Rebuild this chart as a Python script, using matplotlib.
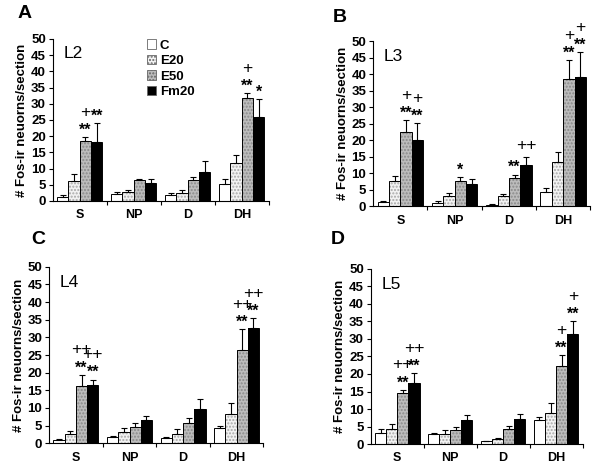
import numpy as np
import matplotlib.pyplot as plt
from matplotlib.patches import Patch

plt.rcParams['font.family'] = ['Liberation Sans', 'DejaVu Sans']
plt.rcParams['font.weight'] = 'bold'

groups = ['S', 'NP', 'D', 'DH']
series = ['C', 'E20', 'E50', 'Fm20']

# means per series (C, E20, E50, Fm20), one value per region S, NP, D, DH
l2_mean = [[1.3, 2.0, 1.8, 5.3], [6.2, 2.9, 2.5, 11.7], [18.6, 6.4, 6.5, 31.8], [18.1, 5.5, 8.9, 26.0]]
l2_err = [[0.6, 0.8, 0.7, 1.6], [2.2, 0.6, 0.8, 2.5], [1.0, 0.5, 1.0, 1.5], [6.0, 1.2, 3.3, 5.3]]
l3_mean = [[1.4, 1.0, 0.5, 4.2], [7.5, 3.1, 3.1, 13.3], [22.5, 7.5, 8.6, 38.6], [20.2, 6.6, 12.5, 39.3]]
l3_err = [[0.2, 0.5, 0.2, 1.3], [1.8, 0.8, 0.5, 3.0], [3.6, 1.3, 1.0, 5.6], [5.0, 1.5, 2.5, 7.3]]
l4_mean = [[1.0, 1.7, 1.6, 4.4], [2.6, 3.1, 2.7, 8.4], [16.1, 4.7, 5.8, 26.5], [16.4, 6.5, 9.7, 32.7]]
l4_err = [[0.3, 0.2, 0.2, 0.4], [0.9, 1.1, 1.2, 3.1], [3.3, 1.1, 1.4, 5.8], [1.6, 1.3, 2.8, 2.7]]
l5_mean = [[3.1, 2.8, 0.8, 6.8], [4.2, 3.0, 1.6, 8.8], [14.7, 3.9, 4.4, 22.2], [17.3, 7.0, 7.3, 31.5]]
l5_err = [[1.1, 0.3, 0.1, 1.0], [1.6, 1.1, 0.2, 3.0], [0.8, 1.0, 0.7, 3.1], [2.9, 1.4, 1.2, 3.5]]

# significance marks: (series index, group index, stars, plus)
l2_marks = [(2, 0, '**', '+'), (3, 0, '**', ''), (2, 3, '**', '+'), (3, 3, '*', '')]
l3_marks = [(2, 0, '**', '+'), (3, 0, '**', '+'), (2, 1, '*', ''), (2, 2, '**', ''),
            (3, 2, '', '++'), (2, 3, '**', '+'), (3, 3, '**', '+')]
l4_marks = [(2, 0, '**', '++'), (3, 0, '**', '++'), (2, 3, '**', '++'), (3, 3, '**', '++')]
l5_marks = [(2, 0, '**', '++'), (3, 0, '**', '++'), (2, 3, '**', '+'), (3, 3, '**', '+')]

faces = ['white', '#f2f2f2', '#bcbcbc', 'black']
hatches = [None, '.....', '.....', None]
hatch_cols = ['black', '#a8a8a8', '#8a8a8a', 'black']

fig = plt.figure(figsize=(6, 4.74), dpi=100)

panels = [
    ('A', 'L2', l2_mean, l2_err, l2_marks, [0.088, 0.576, 0.360, 0.342], (18, 5)),
    ('B', 'L3', l3_mean, l3_err, l3_marks, [0.622, 0.565, 0.362, 0.348], (333, 9)),
    ('C', 'L4', l4_mean, l4_err, l4_marks, [0.082, 0.065, 0.357, 0.372], (31, 231)),
    ('D', 'L5', l5_mean, l5_err, l5_marks, [0.618, 0.063, 0.353, 0.370], (331, 231)),
]

x = np.arange(len(groups))
w = 0.21
for letter, level, means, errs, marks, rect, lpos in panels:
    ax = fig.add_axes(rect)
    for i in range(4):
        pos = x - 1.5 * w + i * w
        ax.bar(pos, means[i], w, color=faces[i], hatch=hatches[i],
               edgecolor=hatch_cols[i], linewidth=0)
        ax.bar(pos, means[i], w, fill=False, edgecolor='black', linewidth=0.7)
        ax.errorbar(pos, means[i], yerr=[np.zeros(4), errs[i]], fmt='none',
                    ecolor='black', elinewidth=0.8, capsize=2.5, capthick=0.8)
    for si, gi, st, pl in marks:
        px = x[gi] - 1.5 * w + si * w
        top = means[si][gi] + errs[si][gi]
        if st:
            ax.annotate(st, (px, top), xytext=(0, 5), textcoords='offset points',
                        ha='center', va='center', fontsize=11.5, fontweight='bold')
        if pl:
            off = 18 if st else 8
            ax.annotate(pl, (px, top), xytext=(0, off), textcoords='offset points',
                        ha='center', va='center', fontsize=12.5, fontweight='normal')
    ax.set_xlim(-0.5, 3.5)
    ax.set_ylim(0, 50)
    ax.set_yticks(range(0, 51, 5))
    ax.set_xticks(x)
    ax.set_xticklabels(groups)
    ax.set_xticks([0.5, 1.5, 2.5, 3.5], minor=True)
    ax.tick_params(axis='x', which='major', length=0, pad=6, labelsize=9)
    ax.tick_params(axis='x', which='minor', length=3, width=0.8)
    ax.tick_params(axis='y', length=3, width=0.8, labelsize=9.5, pad=2)
    ax.spines['top'].set_visible(False)
    ax.spines['right'].set_visible(False)
    ax.spines['left'].set_linewidth(0.8)
    ax.spines['bottom'].set_linewidth(0.8)
    ax.set_ylabel('# Fos-ir neuorns/section', fontsize=9.5, fontweight='bold', labelpad=2)
    ax.text(0.05, 0.91, level, transform=ax.transAxes, fontsize=12.5,
            fontweight='normal', va='center')
    fig.text(lpos[0] / 600, 1 - lpos[1] / 474, letter, fontsize=14,
             fontweight='bold', va='top')
    if letter == 'A':
        handles = [Patch(facecolor=faces[i], hatch=hatches[i], edgecolor='#666666',
                         linewidth=0.6) for i in range(4)]
        ax.legend(handles, series, loc='upper left', bbox_to_anchor=(0.38, 1.07),
                  frameon=False, handlelength=0.7, handleheight=0.7,
                  handletextpad=0.3, labelspacing=0.25,
                  prop={'weight': 'bold', 'size': 9.5})

fig.savefig('out.png', dpi=100)
